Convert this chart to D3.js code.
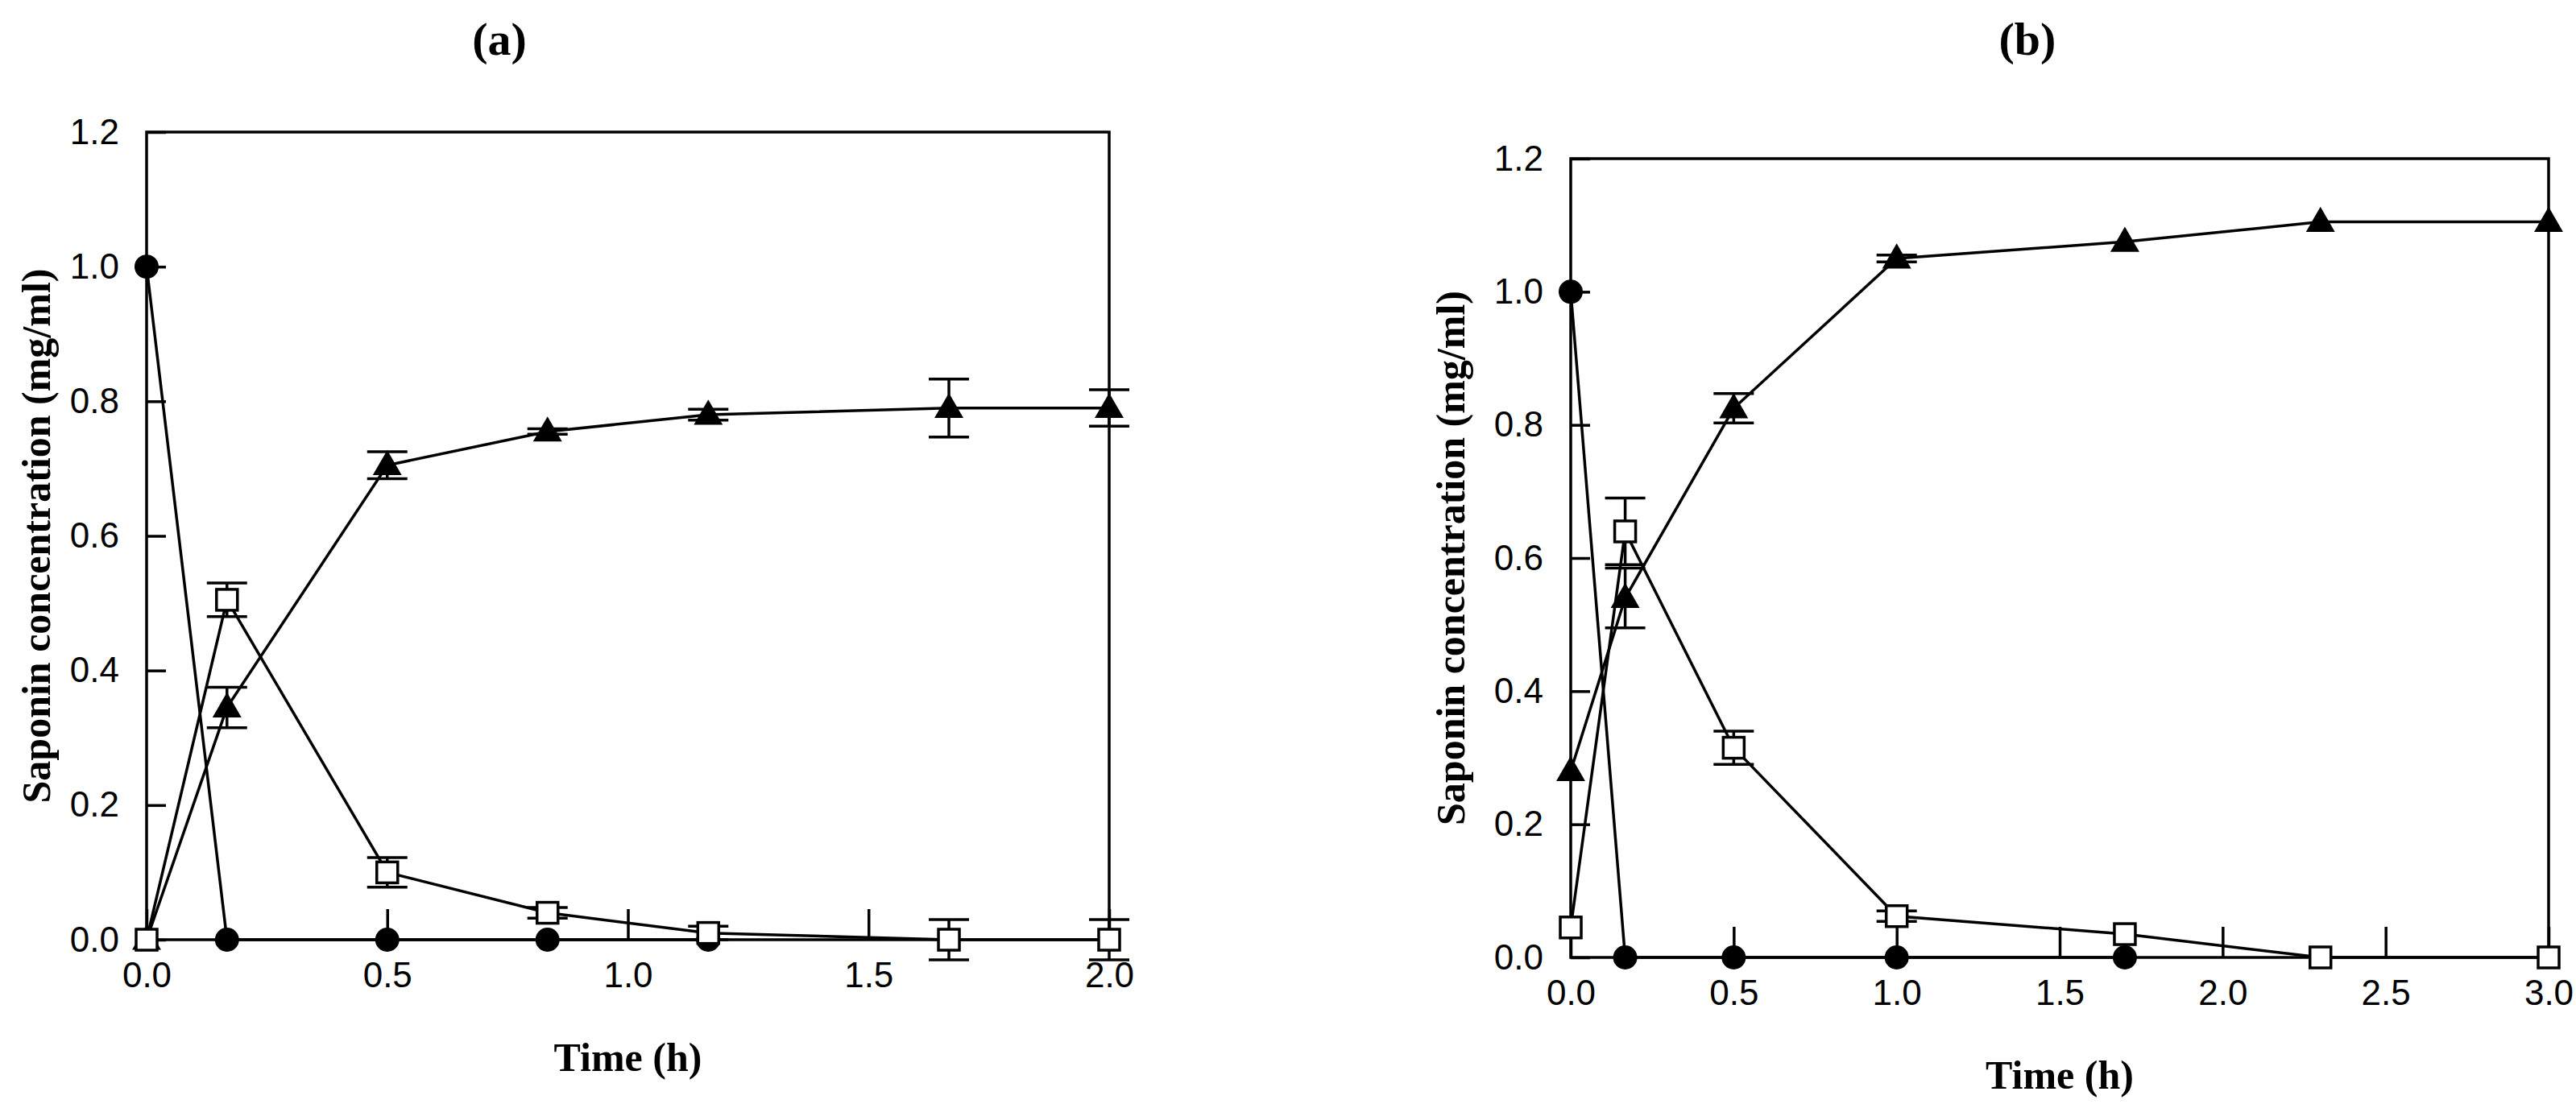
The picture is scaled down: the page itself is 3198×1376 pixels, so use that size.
<!DOCTYPE html>
<html>
<head>
<meta charset="utf-8">
<script src="https://cdn.jsdelivr.net/npm/d3@7"></script>
<style>
  body { margin: 0; background: #fff; }
  .tick text { font-family: "Liberation Sans", Arial, sans-serif; }
</style>
</head>
<body>
<svg id="chart" width="3198" height="1376"></svg>
<script>
// panel (a)
const timeA = [0, 0.167, 0.5, 0.833, 1.167, 1.667, 2.0];
const circA = [1.0, 0, 0, 0, 0];
const sqA = [0, 0.505, 0.10, 0.04, 0.01, 0.0, 0.0];
const sqErrA = [0, 0.025, 0.022, 0.008, 0.01, 0.03, 0.03];
const triA = [0, 0.345, 0.705, 0.755, 0.78, 0.79, 0.79];
const triErrA = [0, 0.03, 0.02, 0.004, 0.008, 0.043, 0.027];

// panel (b)
const timeB = [0, 0.167, 0.5, 1.0, 1.7, 2.3, 3.0];
const circB = [1.0, 0, 0, 0, 0];
const sqB = [0.045, 0.64, 0.315, 0.062, 0.035, 0.0, 0.0];
const sqErrB = [0, 0.05, 0.025, 0.008, 0, 0, 0];
const triB = [0.28, 0.54, 0.825, 1.05, 1.075, 1.105, 1.105];
const triErrB = [0, 0.045, 0.022, 0.005, 0, 0, 0];

const yTicks = [0, 0.2, 0.4, 0.6, 0.8, 1.0, 1.2];
const xTicksA = [0, 0.5, 1.0, 1.5, 2.0];
const xTicksB = [0, 0.5, 1.0, 1.5, 2.0, 2.5, 3.0];

const svg = d3.select('#chart');

function panel(cfg) {
  const g = svg.append('g');
  const x = d3.scaleLinear().domain([0, cfg.xMax]).range([cfg.left, cfg.right]);
  const y = d3.scaleLinear().domain([0, 1.2]).range([cfg.bottom, cfg.top]);

  // frame
  g.append('rect')
    .attr('x', cfg.left).attr('y', cfg.top)
    .attr('width', cfg.right - cfg.left).attr('height', cfg.bottom - cfg.top)
    .attr('fill', 'none').attr('stroke', '#000').attr('stroke-width', 3.5);

  const xAxis = g.append('g')
    .attr('transform', `translate(0,${cfg.bottom})`)
    .call(d3.axisBottom(x).tickValues(cfg.xTicks).tickFormat(d3.format('.1f'))
      .tickSizeInner(-38).tickSizeOuter(0).tickPadding(50));
  const yAxis = g.append('g')
    .attr('transform', `translate(${cfg.left},0)`)
    .call(d3.axisLeft(y).tickValues(yTicks).tickFormat(d3.format('.1f'))
      .tickSizeInner(-24).tickSizeOuter(0).tickPadding(34));
  [xAxis, yAxis].forEach(a => {
    a.select('.domain').remove();
    a.selectAll('line').attr('stroke-width', 3.5);
    a.selectAll('text').attr('font-size', 44).attr('fill', '#000');
  });
  xAxis.selectAll('text').attr('dy', '0.2em');

  const line = d3.line().x(d => x(d[0])).y(d => y(d[1]));
  const pts = (t, v) => v.map((d, i) => [t[i], d]);

  const circ = pts(cfg.time, cfg.circ);
  const sq = pts(cfg.time, cfg.sq);
  const tri = pts(cfg.time, cfg.tri);

  [circ, sq, tri].forEach(p => g.append('path').attr('d', line(p))
    .attr('fill', 'none').attr('stroke', '#000').attr('stroke-width', 3.5));

  // error bars
  function errs(p, e) {
    p.forEach((d, i) => {
      if (!e[i]) return;
      const cx = x(d[0]), y1 = y(d[1] - e[i]), y2 = y(d[1] + e[i]);
      g.append('line').attr('x1', cx).attr('x2', cx).attr('y1', y1).attr('y2', y2)
        .attr('stroke', '#000').attr('stroke-width', 3.5);
      [y1, y2].forEach(yy => g.append('line')
        .attr('x1', cx - 25).attr('x2', cx + 25).attr('y1', yy).attr('y2', yy)
        .attr('stroke', '#000').attr('stroke-width', 3.5));
    });
  }
  errs(tri, cfg.triErr);
  errs(sq, cfg.sqErr);

  g.selectAll('.c').data(circ).join('circle')
    .attr('cx', d => x(d[0])).attr('cy', d => y(d[1])).attr('r', 15).attr('fill', '#000');
  g.selectAll('.t').data(tri).join('path')
    .attr('d', d3.symbol(d3.symbolTriangle, 560))
    .attr('transform', d => `translate(${x(d[0])},${y(d[1]) + 2})`).attr('fill', '#000');
  g.selectAll('.s').data(sq).join('rect')
    .attr('x', d => x(d[0]) - 13).attr('y', d => y(d[1]) - 13)
    .attr('width', 26).attr('height', 26)
    .attr('fill', '#fff').attr('stroke', '#000').attr('stroke-width', 3.5);

  const serif = '"Liberation Serif", "DejaVu Serif", serif';
  g.append('text').attr('x', cfg.titleX).attr('y', 68).attr('text-anchor', 'middle')
    .attr('font-family', serif).attr('font-weight', 'bold').attr('font-size', 58).text(cfg.title);
  g.append('text').attr('x', (cfg.left + cfg.right) / 2).attr('y', cfg.xLabelY)
    .attr('text-anchor', 'middle').attr('font-family', serif).attr('font-weight', 'bold')
    .attr('font-size', 50).text('Time (h)');
  g.append('text').attr('transform', `translate(${cfg.yLabelX},${(cfg.top + cfg.bottom) / 2}) rotate(-90)`)
    .attr('text-anchor', 'middle').attr('font-family', serif).attr('font-weight', 'bold')
    .attr('font-size', 50).text('Saponin concentration (mg/ml)');
}

panel({ left: 182, right: 1377, top: 164, bottom: 1167, xMax: 2, xTicks: xTicksA,
  time: timeA, circ: circA, sq: sqA, sqErr: sqErrA, tri: triA, triErr: triErrA,
  title: '(a)', titleX: 620, xLabelY: 1330, yLabelX: 62 });
panel({ left: 1950, right: 3164, top: 197, bottom: 1189, xMax: 3, xTicks: xTicksB,
  time: timeB, circ: circB, sq: sqB, sqErr: sqErrB, tri: triB, triErr: triErrB,
  title: '(b)', titleX: 2517, xLabelY: 1352, yLabelX: 1818 });
</script>
</body>
</html>
